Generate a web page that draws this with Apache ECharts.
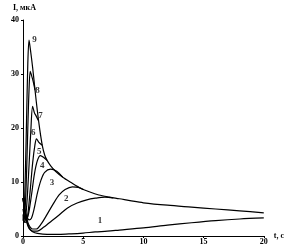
<!DOCTYPE html>
<html><head><meta charset="utf-8">
<script src="https://cdn.jsdelivr.net/npm/echarts@6/dist/echarts.min.js"></script>
<style>html,body{margin:0;padding:0;background:#fff}#c{width:287px;height:246px}</style>
</head><body><div id="c"></div>
<script>
// Tick labels
var xTicks = [0, 5, 10, 15, 20];
var yTicks = [0, 10, 20, 30, 40];
// Curves [t (s), I (мкА)]
var curve1 = [[0,7],[0.15,4.5],[0.3,2.6],[0.5,1.4],[0.8,0.8],[1.2,0.5],[2,0.3],[3,0.3],[4,0.4],[5,0.55],[6,0.75],[7,0.9],[8,1.1],[10,1.5],[12,2.0],[14,2.45],[16,2.85],[18,3.15],[20,3.35]];
var curve2 = [[0,7],[0.15,4.6],[0.3,2.9],[0.5,1.6],[0.8,0.9],[1.2,0.9],[1.7,1.6],[2.5,3],[3,3.9],[3.7,5.2],[4.5,6.1],[5.3,6.7],[6,7.0],[6.8,7.2],[7.5,7.05]];
var curve3 = [[0,7],[0.15,4.8],[0.3,3.3],[0.5,2],[0.8,1.3],[1.1,1.3],[1.5,2.2],[2,4],[2.5,5.9],[3,7.6],[3.5,8.6],[4.1,9.1],[4.6,9.0],[5,8.6]];
var curve4 = [[0,7],[0.15,5],[0.3,3.7],[0.5,3],[0.7,3.3],[0.9,4.8],[1.2,8],[1.5,10.4],[1.8,11.8],[2.3,12.4],[2.8,12.0],[3.3,10.9]];
var curve5 = [[0,5],[0.1,3.8],[0.25,3],[0.45,4],[0.7,7.5],[0.95,11.5],[1.2,14],[1.45,14.9],[1.7,14.6],[2.0,14.0]];
var curve6 = [[0,4],[0.1,2.8],[0.25,2.5],[0.4,4],[0.6,8.5],[0.8,13.5],[1.0,17],[1.12,18],[1.3,17.4],[1.6,16.8]];
var curve7 = [[0,3],[0.1,2.5],[0.2,3],[0.35,7],[0.5,13],[0.65,19.5],[0.8,24],[0.95,22.8],[1.1,22.2],[1.3,21.3]];
var curve8 = [[0,3],[0.1,3],[0.2,6],[0.3,12],[0.4,20],[0.5,27],[0.6,30.5],[0.7,29.8],[0.85,28.6],[1.0,27]];
var curve9 = [[0,3],[0.1,5],[0.2,12],[0.3,22],[0.4,32],[0.5,36.3],[0.6,34.8],[0.8,31.2],[1.0,27],[1.2,23],[1.4,19.6],[1.6,16.8],[1.8,15],[2.0,14],[2.3,13],[2.7,12],[3.3,10.9],[4,9.9],[4.75,8.9],[5.5,8.2],[6.3,7.6],[7.2,7.2],[8,6.9],[9,6.5],[10,6.15],[12,5.7],[14,5.35],[16,5.0],[18,4.65],[20,4.3]];
// Curve labels
var labelNames = ['1','2','3','4','5','6','7','8','9'];
var labelT = [6.4, 3.6, 2.4, 1.6, 1.35, 0.85, 1.45, 1.2, 0.95];
var labelI = [2.8, 7.0, 9.8, 13.1, 15.6, 19.1, 22.2, 26.9, 36.3];

var curves = [curve1,curve2,curve3,curve4,curve5,curve6,curve7,curve8,curve9];
var font = 'Liberation Serif';
var series = curves.map(function(d){
  return {type:'line', data:d, smooth:0.3, symbol:'none',
    lineStyle:{color:'#000', width:1.2}, silent:true};
});
series.push({type:'scatter', symbolSize:0, silent:true,
  data: labelNames.map(function(n,i){return {value:[labelT[i],labelI[i]], name:n};}),
  label:{show:true, formatter:function(p){return p.name;}, position:'inside',
    color:'#000', fontFamily:font, fontWeight:'bold', fontSize:9}});

var chart = echarts.init(document.getElementById('c'), null, {renderer:'canvas'});
chart.setOption({
  animation:false,
  backgroundColor:'#fff',
  grid:{left:23, right:21, top:20, bottom:10, containLabel:false},
  xAxis:{type:'value', min:0, max:20, interval:5,
    name:'t, c', nameLocation:'end', nameGap:10,
    nameTextStyle:{color:'#000', fontFamily:font, fontWeight:'bold', fontSize:8, verticalAlign:'middle'},
    axisLine:{lineStyle:{color:'#000', width:1}},
    axisTick:{show:true, length:2, lineStyle:{color:'#000'}},
    splitLine:{show:false},
    axisLabel:{color:'#000', fontFamily:font, fontWeight:'bold', fontSize:8, margin:2,
      formatter:function(v){return xTicks.indexOf(v)>=0?String(v):'';}}},
  yAxis:{type:'value', min:0, max:40, interval:10,
    name:'I, мкА', nameLocation:'end', nameGap:8,
    nameTextStyle:{color:'#000', fontFamily:font, fontWeight:'bold', fontSize:8, align:'left', padding:[0,0,0,-10]},
    axisLine:{show:true, lineStyle:{color:'#000', width:1}},
    axisTick:{show:true, length:2, lineStyle:{color:'#000'}},
    splitLine:{show:false},
    axisLabel:{color:'#000', fontFamily:font, fontWeight:'bold', fontSize:8, margin:4,
      formatter:function(v){return yTicks.indexOf(v)>=0?String(v):'';}}},
  series:series
});
</script></body></html>
